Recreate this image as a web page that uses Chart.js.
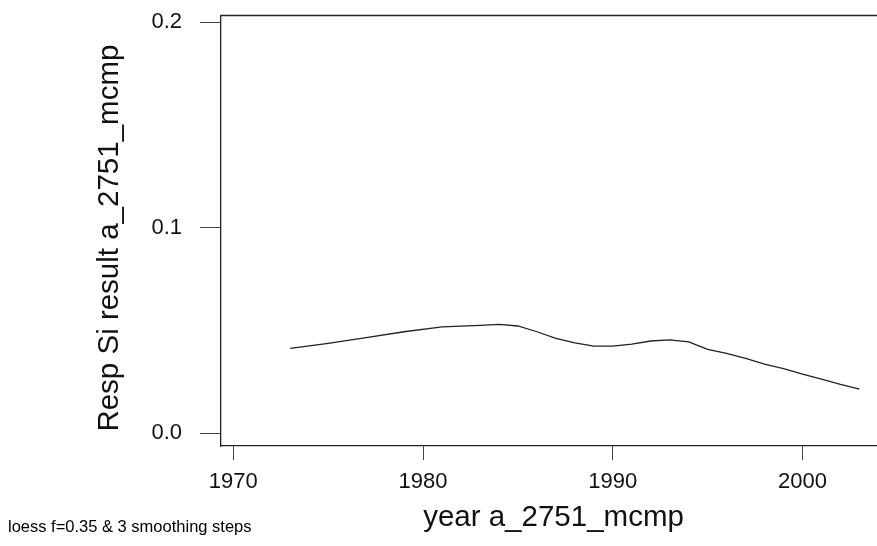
<!DOCTYPE html>
<html>
<head>
<meta charset="utf-8">
<script src="https://cdn.jsdelivr.net/npm/chart.js@4"></script>
<style>
  html, body { margin: 0; padding: 0; background: #fff; overflow: hidden; }
  #wrap { width: 886px; height: 546px; }
</style>
</head>
<body>
<div id="wrap"><canvas id="loessChart"></canvas></div>
<script>
// loess fit, one value per year
let years = [1973, 1975, 1977, 1979, 1981, 1983, 1984, 1985, 1986, 1987, 1988, 1989, 1990,
             1991, 1992, 1993, 1994, 1995, 1996, 1997, 1998, 1999, 2000, 2001, 2002, 2003];
let fitValues = [0.0412, 0.0436, 0.0464, 0.0493, 0.0517, 0.0524, 0.0529, 0.0521, 0.0493, 0.0461,
                 0.0439, 0.0423, 0.0423, 0.0433, 0.0448, 0.0453, 0.0444, 0.0407, 0.0388, 0.0364,
                 0.0336, 0.0313, 0.0287, 0.0263, 0.0237, 0.0214];

let xTicks = [1970, 1980, 1990, 2000];
let yTicks = [0, 0.1, 0.2];
let yTickLabels = ['0.0', '0.1', '0.2'];

let xTitle = 'year a_2751_mcmp';
let yTitle = 'Resp Si result a_2751_mcmp';
let footNote = 'loess f=0.35 & 3 smoothing steps';

const ink = '#222';
const font = 'Liberation Sans, Arial, sans-serif';

// top edge of the plot box + the note under the axis
const boxAndNote = {
  id: 'boxAndNote',
  afterDraw(chart) {
    const c = chart.ctx, a = chart.chartArea;
    c.save();
    c.strokeStyle = ink;
    c.lineWidth = 1.3;
    c.beginPath();
    c.moveTo(a.left, a.top);
    c.lineTo(a.right + 5, a.top);
    c.stroke();
    c.fillStyle = '#000';
    c.font = '16.5px ' + font;
    c.textAlign = 'left';
    c.textBaseline = 'middle';
    c.fillText(footNote, 8, 527);
    c.restore();
  }
};

let ctx = document.getElementById('loessChart').getContext('2d');

let chart = new Chart(ctx, {
  type: 'line',
  data: {
    datasets: [{
      data: years.map((y, i) => ({ x: y, y: fitValues[i] })),
      borderColor: '#222',
      borderWidth: 1.3,
      pointRadius: 0,
      tension: 0,
      fill: false
    }]
  },
  options: {
    responsive: true,
    maintainAspectRatio: false,
    animation: false,
    layout: { padding: { top: 15.5, right: 0, left: 0, bottom: 0 } },
    plugins: { legend: { display: false }, tooltip: { enabled: false } },
    scales: {
      x: {
        type: 'linear',
        min: 1969.35,
        max: 2004.4,
        afterBuildTicks: s => { s.ticks = xTicks.map(v => ({ value: v })); },
        afterFit: s => { s.height = 100; s.paddingLeft = 0; s.paddingRight = 0; },
        border: { display: true, color: ink, width: 1.3 },
        grid: { drawOnChartArea: false, drawTicks: true, tickLength: 14, color: '#444', lineWidth: 1 },
        ticks: {
          color: '#111', padding: 9, maxRotation: 0,
          font: { family: font, size: 22 },
          callback: v => String(v)
        },
        title: {
          display: true, text: xTitle, color: '#111',
          font: { family: font, size: 29.5 },
          padding: { top: 0, bottom: 10 }
        }
      },
      y: {
        min: -0.0063,
        max: 0.2032,
        afterBuildTicks: s => { s.ticks = yTicks.map(v => ({ value: v })); },
        afterFit: s => { s.width = 221; s.paddingTop = 0; s.paddingBottom = 0; },
        border: { display: true, color: ink, width: 1.3 },
        grid: { drawOnChartArea: false, drawTicks: true, tickLength: 21, color: '#444', lineWidth: 1 },
        ticks: {
          color: '#111', padding: 18,
          font: { family: font, size: 22 },
          callback: (v, i) => yTickLabels[i]
        },
        title: {
          display: true, text: yTitle + '\u2002', color: '#111',
          font: { family: font, size: 29.5 },
          padding: { top: 92, bottom: 0 }
        }
      }
    }
  },
  plugins: [boxAndNote]
});
</script>
</body>
</html>
